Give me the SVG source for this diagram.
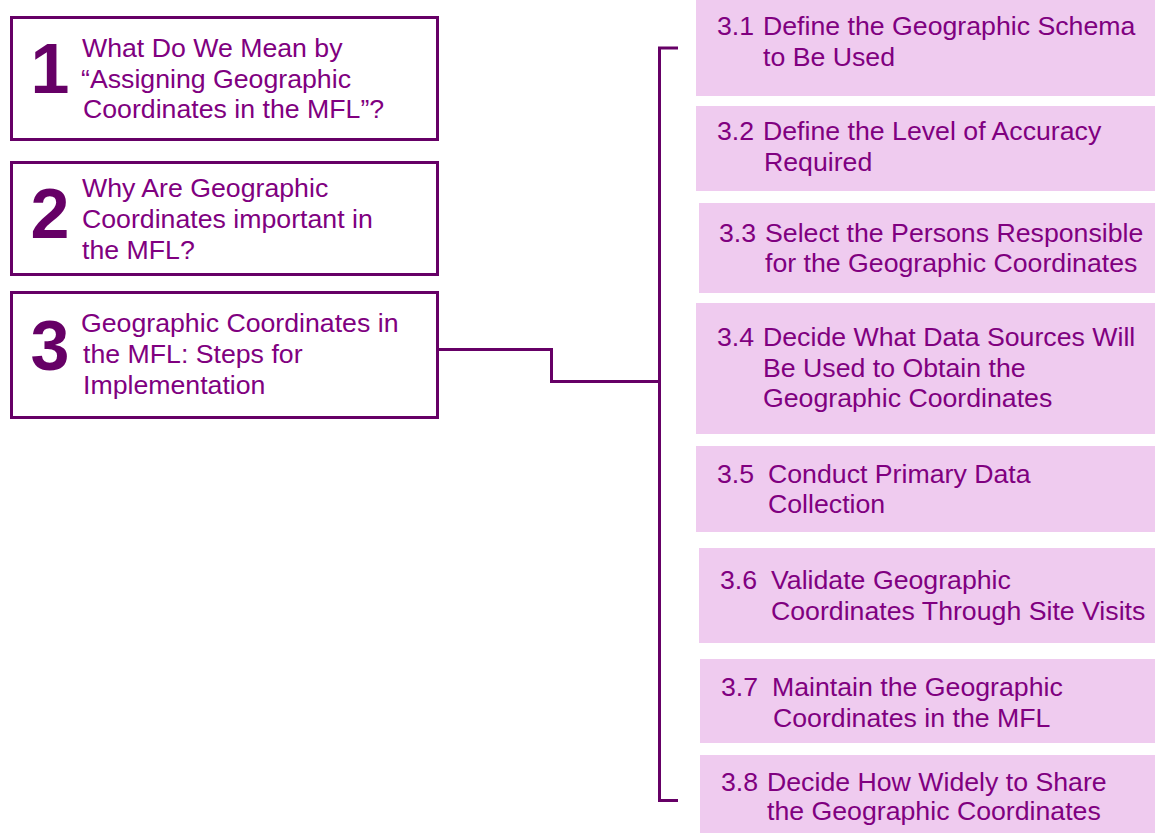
<svg xmlns="http://www.w3.org/2000/svg" width="1155" height="833" viewBox="0 0 1155 833">
<style>
.box{fill:#ffffff;stroke:#660066;stroke-width:3}
.step{fill:#efcbef}
.num{font-family:"Liberation Sans",Arial,sans-serif;font-weight:bold;font-size:70px;fill:#660066;text-anchor:middle}
.t{font-family:"Liberation Sans",Arial,sans-serif;font-size:26.7px;fill:#800080}
.conn{fill:none;stroke:#660066;stroke-width:3}
</style>
<rect width="1155" height="833" fill="#ffffff"/>
<g id="node-1">
<rect class="box" x="11.5" y="17.5" width="426" height="122"/>
<text class="num" x="50" y="93">1</text>
<text class="t" x="82" y="57">What Do We Mean by</text>
<text class="t" x="81" y="88">“Assigning Geographic</text>
<text class="t" x="83" y="118">Coordinates in the MFL”?</text>
</g>
<g id="node-2">
<rect class="box" x="11.5" y="162.5" width="426" height="112"/>
<text class="num" x="50" y="238">2</text>
<text class="t" x="82" y="197">Why Are Geographic</text>
<text class="t" x="82" y="228">Coordinates important in</text>
<text class="t" x="82" y="259">the MFL?</text>
</g>
<g id="node-3">
<rect class="box" x="11.5" y="292.5" width="426" height="125"/>
<text class="num" x="50" y="370">3</text>
<text class="t" x="81" y="332">Geographic Coordinates in</text>
<text class="t" x="83" y="363">the MFL: Steps for</text>
<text class="t" x="83" y="394">Implementation</text>
</g>
<g id="connectors">
<polyline class="conn" points="439,349.5 551.5,349.5 551.5,381.5 659.5,381.5"/>
<polyline class="conn" points="678,48 659.5,48 659.5,800.5 678,800.5"/>
</g>
<g id="node-3-1">
<rect class="step" x="696" y="0" width="459" height="96"/>
<text class="t" x="717" y="35">3.1</text>
<text class="t" x="763" y="35">Define the Geographic Schema</text>
<text class="t" x="763" y="66">to Be Used</text>
</g>
<g id="node-3-2">
<rect class="step" x="696" y="106" width="459" height="85"/>
<text class="t" x="717" y="140">3.2</text>
<text class="t" x="763" y="140">Define the Level of Accuracy</text>
<text class="t" x="764" y="171">Required</text>
</g>
<g id="node-3-3">
<rect class="step" x="699" y="203" width="456" height="90"/>
<text class="t" x="719" y="242">3.3</text>
<text class="t" x="765" y="242">Select the Persons Responsible</text>
<text class="t" x="765" y="272">for the Geographic Coordinates</text>
</g>
<g id="node-3-4">
<rect class="step" x="696" y="303" width="459" height="131"/>
<text class="t" x="717" y="346">3.4</text>
<text class="t" x="763" y="346">Decide What Data Sources Will</text>
<text class="t" x="763" y="377">Be Used to Obtain the</text>
<text class="t" x="763" y="407">Geographic Coordinates</text>
</g>
<g id="node-3-5">
<rect class="step" x="696" y="446" width="459" height="86"/>
<text class="t" x="717" y="483">3.5</text>
<text class="t" x="768" y="483">Conduct Primary Data</text>
<text class="t" x="768" y="513">Collection</text>
</g>
<g id="node-3-6">
<rect class="step" x="699" y="548" width="456" height="95"/>
<text class="t" x="720" y="589">3.6</text>
<text class="t" x="771" y="589">Validate Geographic</text>
<text class="t" x="771" y="620">Coordinates Through Site Visits</text>
</g>
<g id="node-3-7">
<rect class="step" x="700" y="659" width="455" height="84"/>
<text class="t" x="721" y="696">3.7</text>
<text class="t" x="772" y="696">Maintain the Geographic</text>
<text class="t" x="773" y="727">Coordinates in the MFL</text>
</g>
<g id="node-3-8">
<rect class="step" x="700" y="755" width="455" height="78"/>
<text class="t" x="721" y="791">3.8</text>
<text class="t" x="767" y="791">Decide How Widely to Share</text>
<text class="t" x="767" y="820">the Geographic Coordinates</text>
</g>
</svg>
